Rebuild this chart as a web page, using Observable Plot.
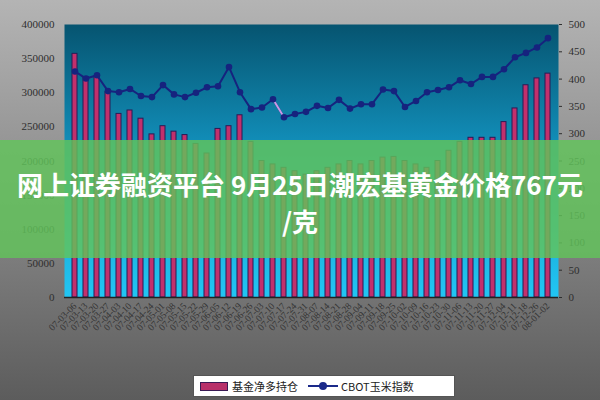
<!DOCTYPE html>
<html><head><meta charset="utf-8">
<script src="https://cdn.jsdelivr.net/npm/d3@7"></script>
<script src="https://cdn.jsdelivr.net/npm/@observablehq/plot@0.6"></script>
<style>
body{margin:0;background:#fff;}
#wrap{position:relative;width:600px;height:400px;overflow:hidden;background:linear-gradient(#b4b4b4 0%,#8e8e8e 45%,#5c5c5c 100%);}
#chart svg{display:block;}
#banner{position:absolute;left:0;top:140px;width:600px;height:118px;background:rgba(98,196,90,0.82);}
#title{position:absolute;left:0;top:165px;width:600px;text-align:center;color:#fff;font:bold 26px/37px "Noto Sans CJK SC","Noto Sans",sans-serif;}
#legend{position:absolute;left:193px;top:375px;width:262px;height:22px;background:#fff;border:1px solid #555;box-sizing:border-box;display:flex;align-items:center;font:11px "Noto Sans CJK SC",sans-serif;color:#222;white-space:nowrap;}
.sw{display:inline-block;width:26px;height:7px;background:#b8306a;border:1px solid #3a1a55;margin:0 4px 0 6px;}
.ln{display:inline-block;position:relative;width:30px;height:2px;background:#1b2a8a;margin:0 3px 0 10px;}
.ln::after{content:"";position:absolute;left:11px;top:-3px;width:8px;height:8px;border-radius:50%;background:#1b2a8a;}
</style></head>
<body>
<div id="wrap">
<div id="chart"></div>
<div id="banner"></div>
<div id="title">网上证券融资平台 9月25日潮宏基黄金价格767元<br>/克</div>
<div id="legend"><span class="sw"></span>基金净多持仓<span class="ln"></span>CBOT玉米指数</div>
</div>
<script>
const dates = ["07-03-06","07-03-13","07-03-20","07-03-27","07-04-03","07-04-10","07-04-17","07-04-24","07-05-01","07-05-08","07-05-15","07-05-22","07-05-29","07-06-05","07-06-12","07-06-19","07-06-26","07-07-03","07-07-10","07-07-17","07-07-24","07-07-31","07-08-07","07-08-14","07-08-21","07-08-28","07-09-04","07-09-11","07-09-18","07-09-25","07-10-02","07-10-09","07-10-16","07-10-23","07-10-30","07-11-06","07-11-13","07-11-20","07-11-27","07-12-04","07-12-11","07-12-18","07-12-26","08-01-02"];
const fundNetLong = [357000,323000,324000,301000,269000,274000,262000,239000,251000,243000,238000,225000,211000,247000,251000,267000,228000,200000,195000,190000,185000,180000,185000,190000,195000,200000,195000,200000,205000,206000,200000,195000,190000,200000,215000,228000,234000,234000,234000,257000,277000,311000,321000,328000];
const cbotCorn = [414,401,407,378,376,382,369,367,389,372,367,375,385,387,422,376,345,348,363,330,336,340,351,347,362,346,354,354,381,378,349,360,376,380,385,398,391,404,404,418,440,448,458,475];
const highlightWeeks = ["07-07-10","07-07-17"];
const leftTicks = [0,50000,100000,150000,200000,250000,300000,350000,400000];
const rightTicks = [0,50,100,150,200,250,300,350,400,450,500];
const K = 800;
const data = dates.map((d,i)=>({date:d, fund:fundNetLong[i], corn:cbotCorn[i]*K}));
const hl = data.filter(d=>highlightWeeks.includes(d.date));
const plot = Plot.plot({
  width:600, height:370, marginLeft:64, marginRight:42, marginTop:24, marginBottom:73,
  style:{background:"transparent", fontFamily:"Liberation Serif, serif", fontSize:"11px", color:"#2e2e2e"},
  x:{type:"band", domain:dates, padding:0.52, label:null},
  y:{domain:[0,400000], label:null},
  marks:[
    Plot.frame({fill:"url(#plotbg)", stroke:"none"}),
    Plot.barY(data,{x:"date", y:"fund", fill:"#c2306c", stroke:"#2b1a55", strokeWidth:1}),
    Plot.line(data,{x:"date", y:"corn", stroke:"#16237e", strokeWidth:2}),
    Plot.line(hl,{x:"date", y:"corn", stroke:"#c99be6", strokeWidth:2}),
    Plot.dot(data,{x:"date", y:"corn", fill:"#16237e", r:3.3}),
    Plot.ruleY([0],{stroke:"#222", strokeWidth:1.5}),
    Plot.axisY({ticks:leftTicks, tickFormat:d=>String(d), tickSize:0, tickPadding:10}),
    Plot.axisY({anchor:"right", ticks:rightTicks.map(v=>v*K), tickFormat:d=>String(d/K), tickSize:3, tickPadding:7}),
    Plot.axisX({tickRotate:-45, tickSize:0, tickPadding:7, fontSize:9.5, fill:"#333"})
  ]
});
const svg = d3.select(plot);
const defs = svg.insert("defs",":first-child");
const g = defs.append("linearGradient").attr("id","plotbg").attr("x1",0).attr("y1",0).attr("x2",0).attr("y2",1);
g.append("stop").attr("offset",0).attr("stop-color","#065470");
g.append("stop").attr("offset",0.45).attr("stop-color","#1290bb");
g.append("stop").attr("offset",1).attr("stop-color","#22c6f4");
document.getElementById("chart").append(plot);
</script>
</body></html>
